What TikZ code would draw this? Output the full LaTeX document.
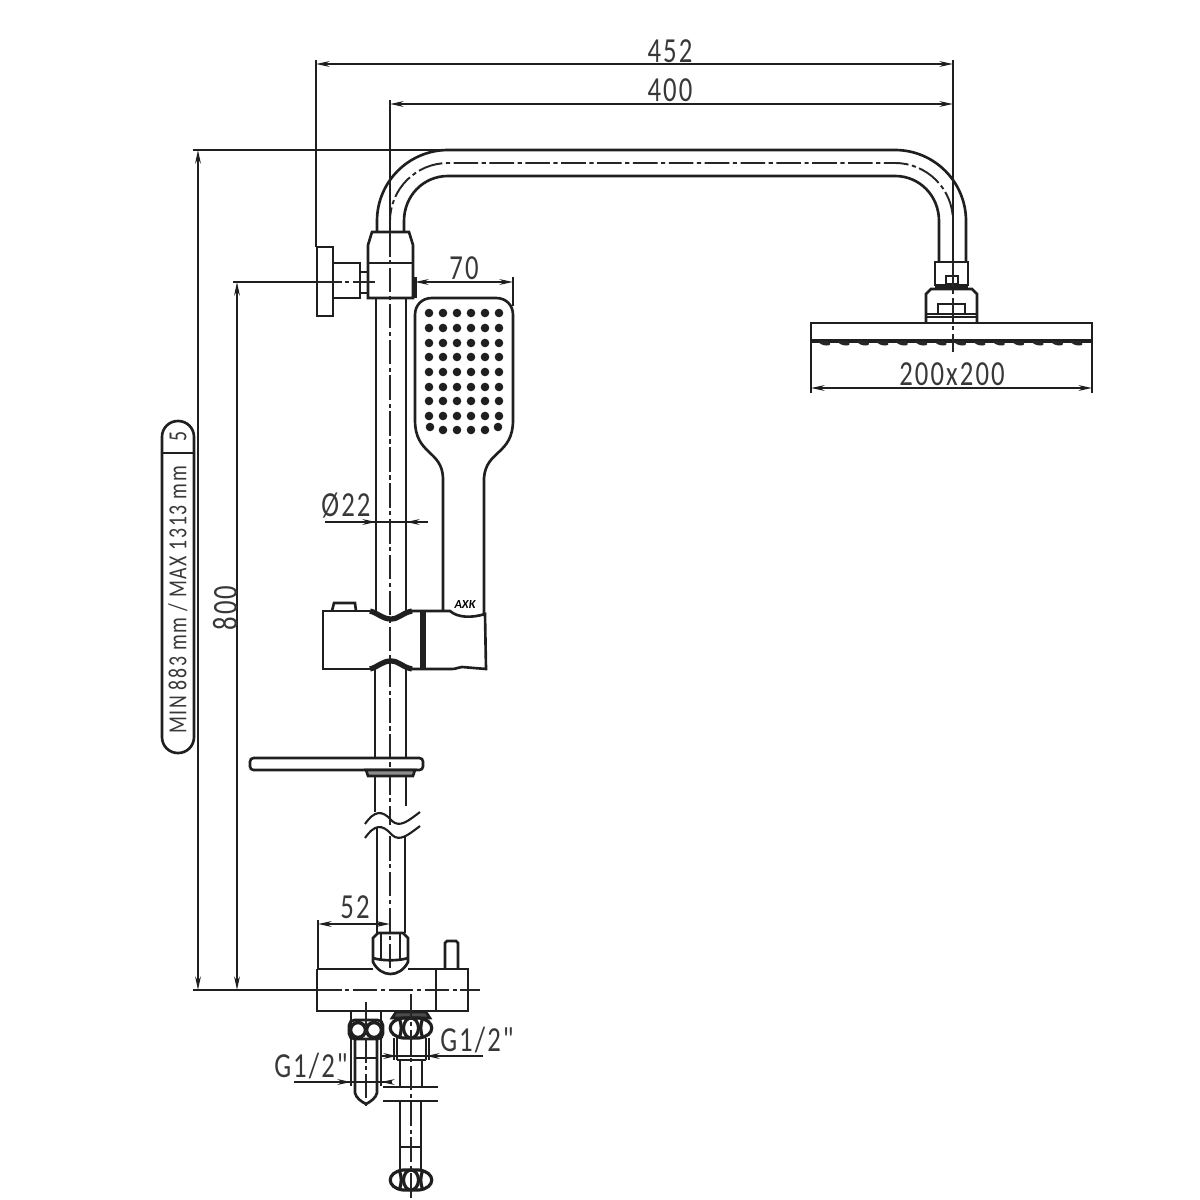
\documentclass[tikz,border=0pt]{standalone}
\usepackage{fontspec}
\setmainfont{Carlito}
\newfontfamily\dimfont[FakeStretch=0.76,LetterSpace=6]{Carlito}
\usetikzlibrary{arrows.meta}

\tikzset{
    part/.style={line width=0.75pt, black!88},
    heavy/.style={line width=1.5pt, black!88},
    thinline/.style={line width=0.6pt, black!88},
    centerline/.style={line width=0.55pt, black!85, dash pattern=on 7pt off 1pt on 1.2pt off 1pt},
    dimline/.style={line width=0.6pt, black!88, {Stealth[length=3.8pt,width=1.6pt]}-{Stealth[length=3.8pt,width=1.6pt]}},
    leftarrow/.style={line width=0.6pt, black!88, -{Stealth[length=3.8pt,width=1.6pt]}},
    dimtext/.style={inner sep=0pt, text=black!78, font=\dimfont\fontsize{10}{12}\selectfont},
    capsuletext/.style={inner sep=0pt, text=black!78, rotate=90, font=\dimfont\fontsize{7.4}{9}\selectfont},
}

% hexagon nut seen from the side, centred on the given point
\newcommand{\nutface}[2]{
    \draw[part, line width=0.9pt] (#1-8,#2-10) -- (#1+8,#2-10) .. controls (#1+25,#2-8) and (#1+25,#2+8) .. (#1+8,#2+10)
        -- (#1-8,#2+10) .. controls (#1-25,#2+8) and (#1-25,#2-8) .. (#1-8,#2-10);
    \draw[part, line width=0.9pt] (#1,#2) ellipse (7.5 and 10);
    \draw[part, line width=0.9pt] (#1-12,#2-10) .. controls (#1-9,#2-3) and (#1-9,#2+3) .. (#1-12,#2+10);
    \draw[part, line width=0.9pt] (#1+12,#2-10) .. controls (#1+9,#2-3) and (#1+9,#2+3) .. (#1+12,#2+10);
}

\begin{document}
\begin{tikzpicture}[x=0.01cm, y=-0.01cm]
    \useasboundingbox (0,0) rectangle (1200,1200);

    % === SHOWER ARM ===
    \draw[part] (377,232) -- (377,221) .. controls (377,181.8) and (408.8,150) .. (448,150) -- (895,150)
        .. controls (934.2,150) and (966,181.8) .. (966,221) -- (966,262);
    \draw[part] (404,232) -- (404,221) .. controls (404,196.1) and (423.1,176) .. (448,176) -- (895,176)
        .. controls (919.9,176) and (939,196.1) .. (939,221) -- (939,262);
    \draw[centerline] (390,232) -- (390,221) .. controls (390,189) and (416,163) .. (448,163) -- (895,163)
        .. controls (927,163) and (953,189) .. (953,221) -- (953,262);

    % === SHOWER HEAD ===
    \draw[part] (935,262) rectangle (968,285);
    \draw[part] (946,276) rectangle (958,284);
    \draw[heavy] (935,286.5) -- (968,286.5);
    \draw[part] (926,323) -- (926,294) -- (931,289) -- (972,289) -- (977,294) -- (977,323);
    \draw[part] (926,314) -- (977,314);
    \draw[part] (926,317) -- (977,317);
    \draw[part] (938,313) -- (938,304) -- (965,304) -- (965,313);
    \draw[part] (811,323) rectangle (1092,341);
    \draw[part, line width=1pt] (811,341) -- (1092,341);
    \foreach \bump in {0,...,13}
        \fill[black!85] (823+19.4*\bump,341) ++(-5,0) .. controls +(2,6) and +(8,6) .. ++(10,0) -- cycle;
    \draw[centerline] (953,262) -- (953,352);

    % === WALL BRACKET ===
    \draw[part] (317,247) rectangle (333,316);
    \draw[part] (333,263) rectangle (360,298);
    \draw[part] (360,272) rectangle (368,293);
    \draw[part] (360,282) -- (368,282);
    \draw[part] (372,232) -- (409,232) -- (413,245) -- (413,298) -- (368,298) -- (368,245) -- cycle;
    \draw[part] (368,263) -- (413,263);

    % === RISER PIPE ===
    \draw[part] (376,298) -- (376,611);
    \draw[part] (406,298) -- (406,611);
    \draw[part] (375,669) -- (375,758);
    \draw[part] (406,669) -- (406,758);
    \draw[part] (375,776) -- (375,812);
    \draw[part] (406,776) -- (406,806);
    \draw[part] (377,828) -- (377,933);
    \draw[part] (405,836) -- (405,933);
    \draw[centerline] (390,232) -- (390,825);
    \draw[centerline] (390,836) -- (390,969);

    % pipe break
    \draw[thinline] (365,824) .. controls (374,811) and (382,809) .. (392,821)
        .. controls (400,828) and (408,821) .. (420,812);
    \draw[thinline] (365,838) .. controls (374,825) and (382,823) .. (392,835)
        .. controls (400,842) and (408,835) .. (420,826);

    % === HAND SHOWER ===
    \draw[part] (443,611) -- (443,478) .. controls (442,450) and (415,455) .. (415,420) -- (415,315)
        .. controls (415,305) and (422,298) .. (432,298) -- (496,298)
        .. controls (506,298) and (513,305) .. (513,315) -- (513,420)
        .. controls (513,455) and (486,450) .. (484,478) -- (484,614);
    \foreach \col in {429,443,457,471,485,499}
        \foreach \row in {313,328,343,357,372,387,401,416}
            \fill[black!88] (\col,\row) circle (4.3);
    \foreach \col in {443,457,471,485}
        \fill[black!88] (\col,430) circle (4.3);
    \fill[black!88] (430,427) circle (4.3);
    \fill[black!88] (498,427) circle (4.3);
    \node[inner sep=0pt, font=\fontsize{3.5}{4}\selectfont\bfseries\itshape] (brand) at (465,604) {AXK};

    % === SLIDER ===
    \draw[part] (370,611) -- (323,611) -- (323,669) -- (370,669);
    \draw[part] (408,611) -- (450,611) .. controls (458,618) and (472,618) .. (485,614) -- (486,669)
        -- (462,667) .. controls (458,667) and (457,669) .. (452,669) -- (408,669);
    \draw[part] (332,611) -- (334,603) -- (355,603) -- (356,611);
    \draw[heavy] (423,611) -- (423,669);
    \draw[heavy] (370,611) .. controls (378,613) and (382,619) .. (391,619)
        .. controls (399,619) and (402,613) .. (412,611);
    \draw[heavy] (370,669) .. controls (378,667) and (382,661) .. (391,661)
        .. controls (399,661) and (402,667) .. (412,669);

    % === SHELF ===
    \draw[part, rounded corners=1pt] (250,758) rectangle (423,770);
    \draw[part, fill=black!45] (366,770) -- (368,776) -- (413,776) -- (415,770) -- cycle;

    % === VALVE BODY ===
    \draw[part] (317,969) -- (373,969);
    \draw[part] (408,969) -- (468,969) -- (468,1011) -- (317,1011) -- (317,969);
    \draw[part] (436,969) -- (436,1011);
    \draw[part] (445,969) -- (445,943) -- (447,941) -- (456,941) -- (458,943) -- (458,969);
    \draw[part] (373,962) -- (373,938) -- (378,933) -- (403,933) -- (408,938) -- (408,962)
        .. controls (400,978) and (381,978) .. (373,962) -- cycle;
    \draw[part] (373,958) .. controls (382,961) and (399,961) .. (408,958);
    \draw[part] (381,933) -- (381,960);
    \draw[part] (400,933) -- (400,960);

    % === CONNECTORS ===
    \draw[part] (351,1011) -- (351,1086);
    \draw[part] (381,1011) -- (381,1086);
    \draw[part, rounded corners=1.5pt] (349,1020) rectangle (383,1039);
    \draw[part, line width=1pt, fill=white] (358,1030) circle (7.5);
    \draw[part, line width=1pt, fill=white] (374,1030) circle (7.5);
    \draw[part] (355,1039) -- (355,1093) .. controls (356,1098) and (362,1102) .. (366,1104)
        .. controls (370,1102) and (376,1098) .. (377,1093) -- (377,1039);
    \draw[part] (355,1058) -- (377,1058);
    \draw[centerline] (366,1002) -- (366,1108);

    \draw[part, fill=black!70] (396,1012) -- (426,1012) -- (430,1018) -- (392,1018) -- cycle;
    \nutface{411}{1028}
    \draw[part] (394,1038) -- (394,1060);
    \draw[part] (397,1038) -- (397,1060);
    \draw[part] (426,1038) -- (426,1060);
    \draw[part] (429,1038) -- (429,1060);
    \draw[part] (397,1060) -- (426,1060);
    \draw[part] (400,1060) -- (400,1087);
    \draw[part] (422,1060) -- (422,1087);
    \draw[part] (383,1087) -- (438,1087);
    \draw[part] (383,1101) -- (438,1101);
    \draw[part] (400,1101) -- (400,1170);
    \draw[part] (421,1101) -- (421,1170);
    \draw[part] (400,1147) -- (421,1147);
    \nutface{411}{1180}
    \draw[centerline] (411,994) -- (411,1199);

    % === DIMENSIONS ===
    % extension lines
    \draw[thinline] (316,60) -- (316,247);
    \draw[thinline] (390,100) -- (390,232);
    \draw[thinline] (953,60) -- (953,262);
    \draw[thinline] (193,150) -- (445,150);
    \draw[thinline] (193,990) -- (317,990);
    \draw[thinline] (233,282) -- (317,282);
    \draw[heavy, line width=1pt] (415,277) -- (415,298);
    \draw[thinline] (513,277) -- (513,306);
    \draw[thinline] (811,341) -- (811,393);
    \draw[thinline] (1092,341) -- (1092,393);
    \draw[thinline] (318,920) -- (318,969);
    \draw[centerline] (317,282) -- (375,282);
    \draw[centerline] (317,990) -- (480,990);

    % top
    \draw[dimline] (316,64) -- (953,64);
    \node[dimtext] (arm452) at (670,51) {452};
    \draw[dimline] (390,104) -- (953,104);
    \node[dimtext] (arm400) at (670,90) {400};

    % left
    \draw[dimline] (198,150) -- (198,990);
    \draw[dimline] (237,282) -- (237,990);
    \node[dimtext, rotate=90] (rise800) at (225,608) {800};
    \draw[part, rounded corners=4.5pt] (162,421) rectangle (194,753);
    \draw[part] (162,453) -- (194,453);
    \node[capsuletext] (ranknum) at (178,436) {5};
    \node[capsuletext] (minmax) at (178,600) {MIN 883 mm / MAX 1313 mm};

    % hand shower, head, pipe
    \draw[dimline] (415,282) -- (513,282);
    \node[dimtext] (hand70) at (464,268) {70};
    \draw[dimline] (811,388) -- (1092,388);
    \node[dimtext] (head200) at (952,374) {200x200};
    \draw[thinline] (325,522) -- (428,522);
    \draw[leftarrow] (325,522) -- (376,522);
    \draw[leftarrow] (428,522) -- (406,522);
    \node[dimtext] (pipe22) at (346,506) {Ø22};

    % valve
    \draw[dimline] (318,924) -- (390,924);
    \node[dimtext] (valve52) at (355,907) {52};
    \draw[thinline] (294,1082) -- (392,1082);
    \draw[leftarrow] (294,1082) -- (351,1082);
    \draw[leftarrow] (392,1082) -- (381,1082);
    \node[dimtext] (inletl) at (311,1066) {G1/2"};
    \draw[thinline] (382,1056) -- (483,1056);
    \draw[leftarrow] (382,1056) -- (397,1056);
    \draw[leftarrow] (483,1056) -- (426,1056);
    \node[dimtext] (inletr) at (477,1040) {G1/2"};
\end{tikzpicture}
\end{document}
